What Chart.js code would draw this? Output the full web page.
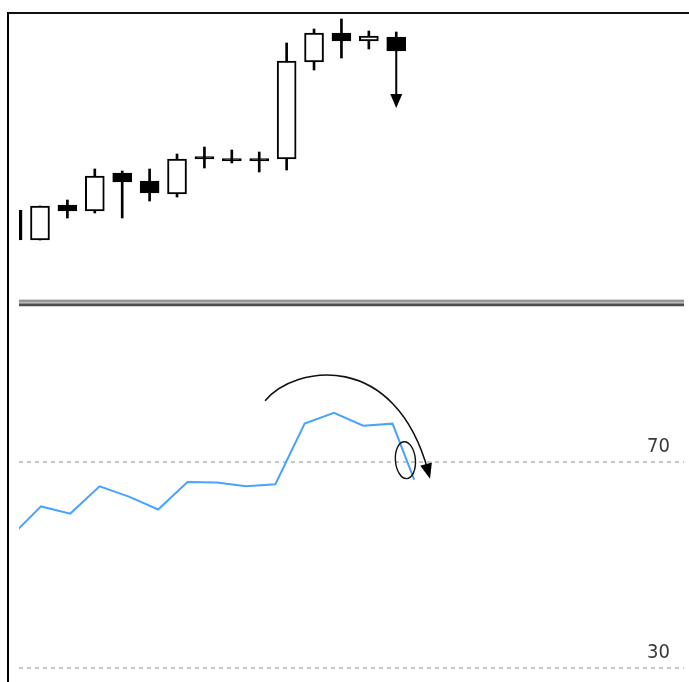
<!DOCTYPE html>
<html>
<head>
<meta charset="utf-8">
<script src="https://cdn.jsdelivr.net/npm/chart.js@4/dist/chart.umd.min.js"></script>
<style>
  html, body { margin: 0; padding: 0; background: #fff; overflow: hidden; }
  body { width: 689px; height: 682px; position: relative; }
  .frame {
    position: absolute; left: 7px; top: 12px; width: 700px; height: 700px;
    border-left: 2px solid #000; border-top: 2px solid #111;
  }
  .separator {
    position: absolute; left: 19px; top: 299px; width: 665px; height: 8px;
    background: linear-gradient(to bottom,
      #d4d4d4 0px, #d4d4d4 1px,
      #959595 1px, #959595 3px,
      #bdbdbd 3px, #bdbdbd 4px,
      #8c8c8c 4px, #8c8c8c 5px,
      #4e4e4e 5px, #4e4e4e 7px,
      #cfcfcf 7px, #cfcfcf 8px);
  }
  canvas { position: absolute; left: 0; }
  #priceChart { top: 14px; }
  #rsiChart { top: 278px; }
</style>
</head>
<body>
<div class="frame"></div>
<canvas id="priceChart" width="689" height="284"></canvas>
<div class="separator"></div>
<canvas id="rsiChart" width="689" height="574"></canvas>

<script>
// ============================================================================
// DATA
// ============================================================================

// candle index on the price panel (first one is cut by the panel edge)
const CANDLE_INDEX = [0, 1, 2, 3, 4, 5, 6, 7, 8, 9, 10, 11, 12, 13, 14];
const OPEN  = [88, 58, 93, 87, 125, 117, 104, 141.5, 139.5, 139.5, 139, 236, 265, 257, 261];
const CLOSE = [58, 92, 87, 122, 116, 105, 139, 139, 137, 137, 237, 265, 257, 262, 247];
const HIGH  = [88, 92, 98, 129, 127, 129, 144, 151, 148, 146, 255, 269, 279, 267, 266];
const LOW   = [58, 58, 80, 85, 80, 97, 101, 130, 135, 126, 128, 228, 240, 249, 247];

// RSI panel
const RSI_INDEX  = [0, 1, 2, 3, 4, 5, 6, 7, 8, 9, 10, 11, 12, 13, 13.74];
const RSI_VALUES = [55.7, 61.4, 60.0, 65.3, 63.3, 60.8, 66.15, 66.05, 65.3, 65.7, 77.5, 79.6, 77.1, 77.5, 66.6];
const RSI_LEVELS = [30, 70];

// annotations: down arrow under the last candle, curved arrow + circle on RSI
const PRICE_ARROW = { index: 14, from: 247, to: 190 };
const RSI_CURVE = [[8.65, 81.95], [9.67, 88.95], [13.08, 91.87], [14.28, 66.8]];
const RSI_CIRCLE = { index: 13.44, value: 70.4 };

Chart.defaults.animation = false;
Chart.defaults.font.family = "'DejaVu Sans Condensed', 'Liberation Sans Narrow', 'DejaVu Sans', sans-serif";

function arrowHead(ctx, tipX, tipY, dx, dy, len, half) {
  const d = Math.hypot(dx, dy);
  const ux = dx / d, uy = dy / d;
  const bx = tipX - ux * len, by = tipY - uy * len;
  ctx.beginPath();
  ctx.moveTo(tipX, tipY);
  ctx.lineTo(bx - uy * half, by + ux * half);
  ctx.lineTo(bx + uy * half, by - ux * half);
  ctx.closePath();
  ctx.fill();
}

// ============================================================================
// PRICE PANEL (candles as floating bars)
// ============================================================================

const isUp = CANDLE_INDEX.map(i => CLOSE[i] > OPEN[i]);

const priceArrowPlugin = {
  id: 'priceArrow',
  afterDatasetsDraw(chart) {
    const { ctx, scales: { x, y } } = chart;
    const px = x.getPixelForValue(PRICE_ARROW.index);
    const y1 = y.getPixelForValue(PRICE_ARROW.from);
    const y2 = y.getPixelForValue(PRICE_ARROW.to);
    ctx.save();
    ctx.strokeStyle = '#000';
    ctx.fillStyle = '#000';
    ctx.lineWidth = 2;
    ctx.beginPath();
    ctx.moveTo(px, y1);
    ctx.lineTo(px, y2 - 10);
    ctx.stroke();
    arrowHead(ctx, px, y2, 0, 1, 14, 6);
    ctx.restore();
  }
};

const priceCtx = document.getElementById('priceChart').getContext('2d');
const priceChart = new Chart(priceCtx, {
  type: 'bar',
  data: {
    datasets: [
      {
        label: 'Wick',
        data: CANDLE_INDEX.map(i => ({ x: i, y: [LOW[i], HIGH[i]] })),
        backgroundColor: '#000',
        borderWidth: 0,
        barThickness: 2,
        grouped: false,
        clip: 0,
        order: 2
      },
      {
        label: 'Body',
        data: CANDLE_INDEX.map(i => ({ x: i, y: [OPEN[i], CLOSE[i]] })),
        backgroundColor: isUp.map(u => u ? '#fff' : '#000'),
        borderColor: '#000',
        borderWidth: 2,
        borderSkipped: false,
        barThickness: 19,
        grouped: false,
        clip: 0,
        order: 1
      }
    ]
  },
  options: {
    responsive: false,
    layout: { padding: { left: 19, right: 5, top: 0, bottom: 0 } },
    plugins: { legend: { display: false }, tooltip: { enabled: false } },
    scales: {
      x: { type: 'linear', min: 0.234, max: 24.5, offset: false, display: false },
      y: { min: 0, max: 284, display: false }
    }
  },
  plugins: [priceArrowPlugin]
});

// ============================================================================
// RSI PANEL
// ============================================================================

const rsiNotePlugin = {
  id: 'rsiNotes',
  afterDatasetsDraw(chart) {
    const { ctx, scales: { x, y } } = chart;
    const p = RSI_CURVE.map(([i, v]) => [x.getPixelForValue(i), y.getPixelForValue(v)]);
    ctx.save();
    ctx.strokeStyle = '#111';
    ctx.fillStyle = '#000';
    ctx.lineWidth = 1.6;
    ctx.beginPath();
    ctx.moveTo(p[0][0], p[0][1]);
    ctx.bezierCurveTo(p[1][0], p[1][1], p[2][0], p[2][1], p[3][0] - 2, p[3][1] - 8);
    ctx.stroke();
    arrowHead(ctx, p[3][0], p[3][1], p[3][0] - p[2][0], p[3][1] - p[2][1], 15, 6);

    const cx = x.getPixelForValue(RSI_CIRCLE.index);
    const cy = y.getPixelForValue(RSI_CIRCLE.value);
    ctx.lineWidth = 1.4;
    ctx.beginPath();
    ctx.ellipse(cx, cy, 10, 18.5, -0.08, 0, Math.PI * 2);
    ctx.stroke();
    ctx.restore();
  }
};

const rsiCtx = document.getElementById('rsiChart').getContext('2d');
const rsiChart = new Chart(rsiCtx, {
  type: 'line',
  data: {
    datasets: [{
      label: 'RSI',
      data: RSI_INDEX.map((xv, k) => ({ x: xv, y: RSI_VALUES[k] })),
      borderColor: '#4aa2ff',
      borderWidth: 2,
      pointRadius: 0,
      tension: 0,
      clip: 0
    }]
  },
  options: {
    responsive: false,
    layout: { padding: { left: 19, right: 5, top: 30, bottom: 30 } },
    plugins: { legend: { display: false }, tooltip: { enabled: false } },
    scales: {
      x: { type: 'linear', min: 0.249, max: 22.95, display: false },
      y: {
        position: 'right',
        min: 0,
        max: 100,
        afterBuildTicks: (axis) => { axis.ticks = RSI_LEVELS.map(v => ({ value: v })); },
        afterFit: (axis) => { axis.width = 0; },
        grid: { color: '#c8c8c8', lineWidth: 2, drawTicks: false },
        border: { display: false, dash: [4, 4] },
        ticks: {
          mirror: true,
          padding: -14,
          labelOffset: -15,
          color: '#3a3a3a',
          font: { size: 20 }
        }
      }
    }
  },
  plugins: [rsiNotePlugin]
});
</script>
</body>
</html>
